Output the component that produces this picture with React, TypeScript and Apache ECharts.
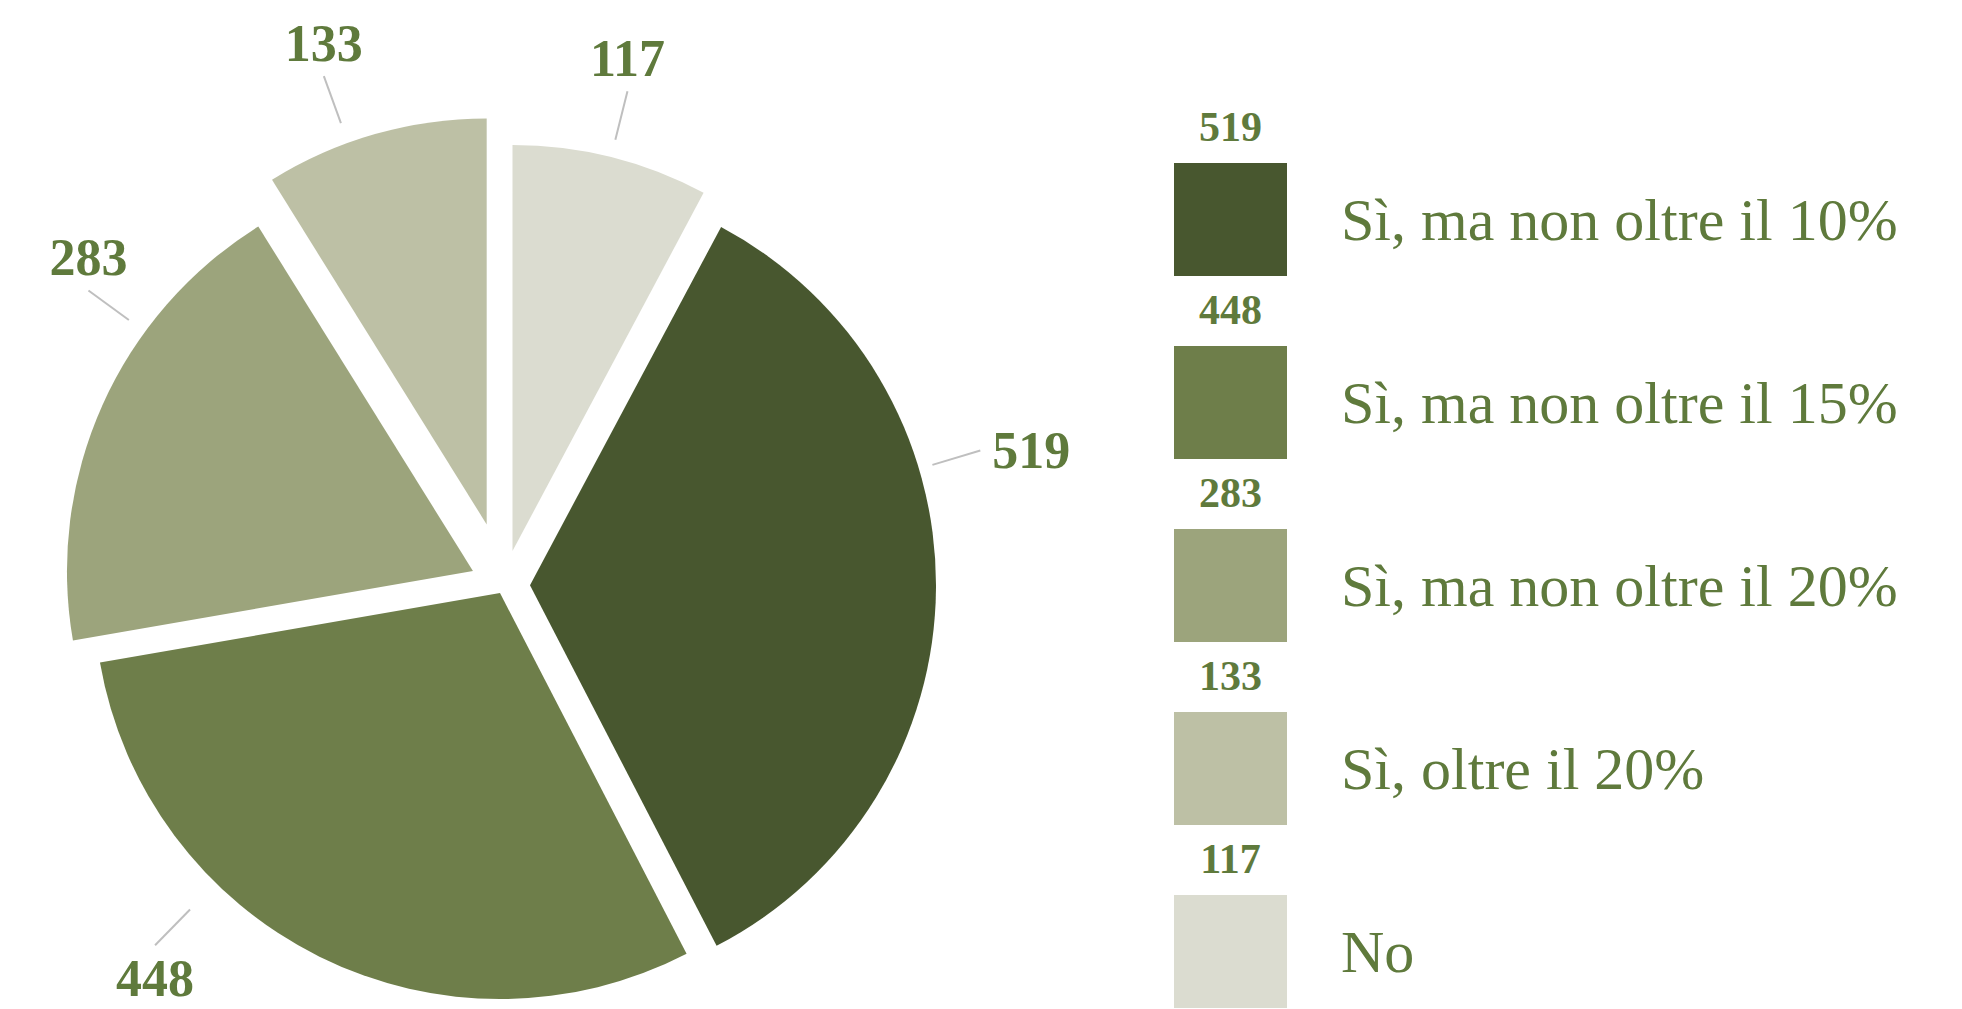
import React, { useEffect, useRef } from 'react';
import * as echarts from 'echarts';

// ---- data ----
const categories = [
  'Sì, ma non oltre il 10%',
  'Sì, ma non oltre il 15%',
  'Sì, ma non oltre il 20%',
  'Sì, oltre il 20%',
  'No',
];
const values = [519, 448, 283, 133, 117];

// ---- style ----
const colors = ['#48572f', '#6e7e4a', '#9ca47c', '#bdc0a5', '#dbdcd0'];
const explodePx = [26, 9, 34, 63, 35];
const labelAngleShift = [-17, 18, 12, -4, 0];
const labelLineGap = [14, 37, 20, 21, 18];
const LINE_LEN = 50;

const W = 1962;
const H = 1009;
const PIE_CX = 504;
const PIE_CY = 585;
const PIE_R = 406;
const LEGEND_LEFT = 1174;
const LEGEND_TOP = 163;
const SWATCH = 113;
const LEGEND_GAP = 70;
const TEXT_GREEN = '#5f7a3c';
const FONT = '"Liberation Serif", "DejaVu Serif", serif';

export default function App() {
  const ref = useRef<HTMLDivElement>(null);

  useEffect(() => {
    const chart = echarts.init(ref.current as HTMLDivElement, null, { renderer: 'svg' });
    const total = values.reduce((a, b) => a + b, 0);
    const n = values.length;
    const startCW = (360 * values[n - 1]) / total;
    const mids: number[] = [];
    let acc = startCW;
    values.forEach((v) => {
      const span = (360 * v) / total;
      mids.push(acc + span / 2);
      acc += span;
    });
    const dir = (deg: number) => {
      const r = (deg * Math.PI) / 180;
      return [Math.sin(r), -Math.cos(r)];
    };
    const centers = mids.map((m, i) => {
      const [ux, uy] = dir(m);
      return [PIE_CX + explodePx[i] * ux, PIE_CY + explodePx[i] * uy];
    });

    const series = values.map((_, i) => ({
      type: 'pie',
      silent: true,
      clockwise: true,
      startAngle: 90 - startCW,
      center: centers[i],
      radius: PIE_R,
      avoidLabelOverlap: false,
      emphasis: { disabled: true },
      data: values.map((v, j) =>
        j === i
          ? {
              name: categories[j],
              value: v,
              itemStyle: { color: colors[j] },
              label: { show: true },
              labelLine: { show: true },
            }
          : {
              name: `__hidden_${j}`,
              value: v,
              itemStyle: { color: 'rgba(0,0,0,0)' },
              label: { show: false },
              labelLine: { show: false },
            }
      ),
      itemStyle: { borderWidth: 0 },
      label: {
        position: 'outside',
        formatter: '{c}',
        fontFamily: FONT,
        fontWeight: 'bold',
        fontSize: 52,
        color: TEXT_GREEN,
      },
      labelLine: {
        show: true,
        length: 10,
        length2: 0,
        lineStyle: { color: '#bfbfbf', width: 2 },
      },
      labelLayout: (params: any) => {
        if (params.dataIndex !== i) return {};
        const [vx, vy] = dir(mids[i] + labelAngleShift[i]);
        const [sx, sy] = centers[i];
        const r0 = PIE_R + labelLineGap[i];
        const r1 = r0 + LINE_LEN;
        const p0 = [sx + vx * r0, sy + vy * r0];
        const p1 = [sx + vx * r1, sy + vy * r1];
        let x: number;
        let y: number;
        if (Math.abs(vx) > 0.9) {
          const w = params.labelRect ? params.labelRect.width : 80;
          x = p1[0] + Math.sign(vx) * (w / 2 + 12);
          y = p1[1];
        } else {
          x = p1[0];
          y = p1[1] + Math.sign(vy) * 33;
        }
        return {
          x,
          y,
          align: 'center',
          verticalAlign: 'middle',
          labelLinePoints: [p0, p1, p1],
        };
      },
    }));

    const graphic = values.map((v, i) => ({
      type: 'text',
      x: LEGEND_LEFT + SWATCH / 2,
      y: LEGEND_TOP + i * (SWATCH + LEGEND_GAP) - 36,
      silent: true,
      style: {
        text: String(v),
        fontFamily: FONT,
        fontWeight: 'bold',
        fontSize: 42,
        fill: TEXT_GREEN,
        align: 'center',
        verticalAlign: 'middle',
        textAlign: 'center',
        textVerticalAlign: 'middle',
      },
    }));

    chart.setOption({
      animation: false,
      backgroundColor: '#ffffff',
      legend: {
        orient: 'vertical',
        left: LEGEND_LEFT,
        top: LEGEND_TOP,
        padding: 0,
        itemWidth: SWATCH,
        itemHeight: SWATCH,
        itemGap: LEGEND_GAP,
        icon: 'rect',
        selectedMode: false,
        data: categories,
        itemStyle: { borderWidth: 0 },
        textStyle: {
          fontFamily: FONT,
          fontSize: 60,
          color: TEXT_GREEN,
          padding: [0, 0, 0, 49],
        },
      },
      graphic,
      series,
    } as any);

    return () => chart.dispose();
  }, []);

  return (
    <div
      ref={ref}
      style={{ position: 'fixed', left: 0, top: 0, width: W, height: H, background: '#fff' }}
    />
  );
}
